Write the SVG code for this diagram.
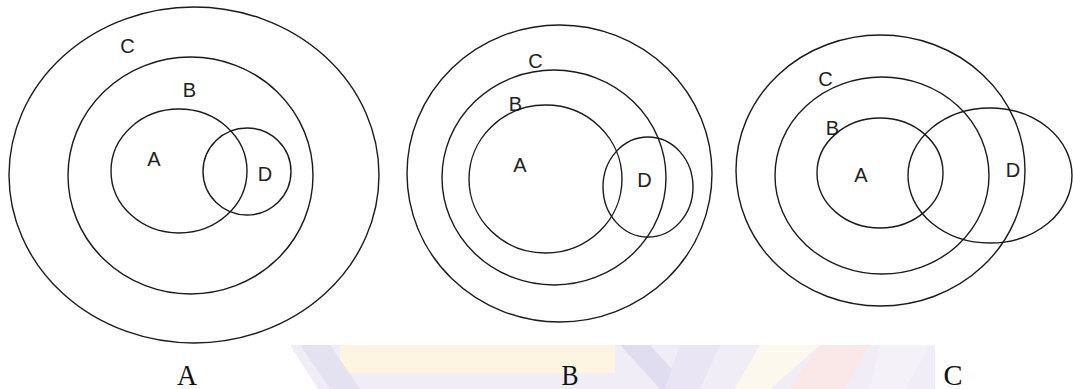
<svg xmlns="http://www.w3.org/2000/svg" width="1073" height="389" viewBox="0 0 1073 389">
<style>
.set{fill:none;stroke:#1a1a1a;stroke-width:1.4}
.lbl{font-family:"Liberation Sans",Arial,sans-serif;font-size:20px;fill:#222;text-anchor:middle}
.cap{font-family:"Liberation Serif","Times New Roman",serif;font-size:29px;fill:#111;text-anchor:middle}
</style>
<rect width="1073" height="389" fill="#fff"/>
<g id="watermark" opacity="0.55">
<polygon points="290,345 935,345 935,389 318,389" fill="#e4e0f0"/>
<rect x="340" y="345" width="275" height="28" fill="#fdeccb"/>
<polygon points="300,345 330,345 360,389 330,389" fill="#cfcbe6"/>
<polygon points="620,345 650,345 690,389 660,389" fill="#c9c3e6"/>
<polygon points="680,345 720,345 700,389 665,389" fill="#d8d0ee"/>
<polygon points="760,345 820,345 770,389 735,389" fill="#fbf3e0"/>
<polygon points="820,345 870,345 845,389 790,389" fill="#f6d6d8"/>
<polygon points="880,345 930,345 905,389 870,389" fill="#ece6f4"/>
</g>
<g id="diagram-A">
<g id="A-setC"><ellipse class="set" cx="194" cy="175" rx="185" ry="168"/><text class="lbl" x="127.5" y="53">C</text></g>
<g id="A-setB"><ellipse class="set" cx="190.5" cy="175.5" rx="122.5" ry="118.5"/><text class="lbl" x="189.5" y="97">B</text></g>
<g id="A-setA"><ellipse class="set" cx="179" cy="171" rx="68" ry="62"/><text class="lbl" x="154" y="166">A</text></g>
<g id="A-setD"><ellipse class="set" cx="247" cy="171.5" rx="44" ry="43.5"/><text class="lbl" x="265" y="181">D</text></g>
<text class="cap" x="187" y="385" textLength="20" lengthAdjust="spacingAndGlyphs">A</text>
</g>
<g id="diagram-B">
<g id="B-outer"><ellipse class="set" cx="559.5" cy="173.5" rx="152.5" ry="148.5"/><text class="lbl" x="535.5" y="68">C</text></g>
<g id="B-middle"><ellipse class="set" cx="554" cy="177.5" rx="112" ry="107.5"/><text class="lbl" x="515.5" y="111">B</text></g>
<g id="B-inner"><ellipse class="set" cx="545.5" cy="179" rx="76.5" ry="74"/><text class="lbl" x="520" y="172">A</text></g>
<g id="B-setD"><ellipse class="set" cx="648" cy="187" rx="45" ry="50"/><text class="lbl" x="644.5" y="187">D</text></g>
<text class="cap" x="570" y="385" textLength="17" lengthAdjust="spacingAndGlyphs">B</text>
</g>
<g id="diagram-C">
<g id="C-outer"><ellipse class="set" cx="880.5" cy="170.5" rx="144.5" ry="135.5"/><text class="lbl" x="825.5" y="86">C</text></g>
<g id="C-middle"><ellipse class="set" cx="882" cy="175.5" rx="107" ry="98.5"/><text class="lbl" x="832.5" y="135">B</text></g>
<g id="C-inner"><ellipse class="set" cx="880" cy="173" rx="63" ry="55"/><text class="lbl" x="861" y="182">A</text></g>
<g id="C-setD"><ellipse class="set" cx="990" cy="175.5" rx="82" ry="67.5"/><text class="lbl" x="1013" y="177">D</text></g>
<text class="cap" x="953" y="385" textLength="19" lengthAdjust="spacingAndGlyphs">C</text>
</g>
<g id="connectors"/>
</svg>
